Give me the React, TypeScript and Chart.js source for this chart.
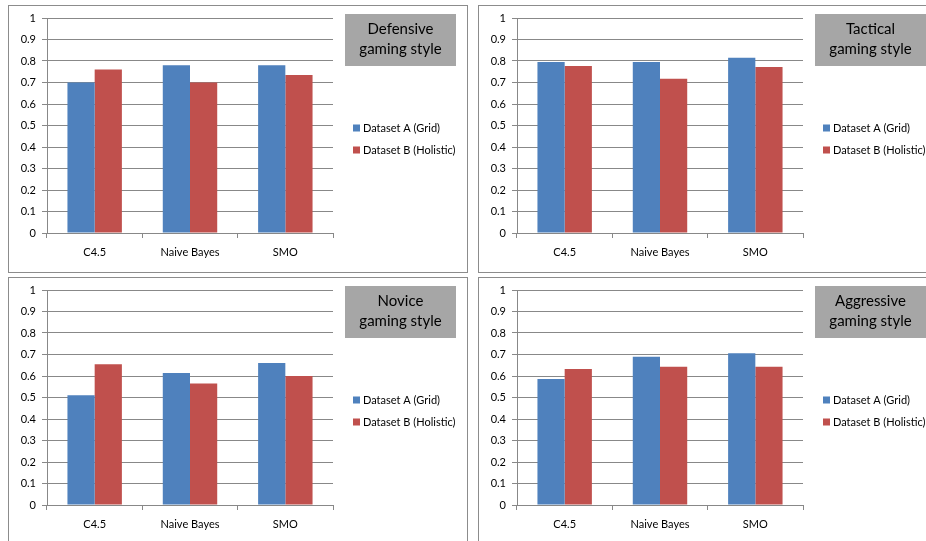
import React, { useEffect, useRef } from "react";
import { Chart, registerables } from "chart.js";

Chart.register(...registerables);

// ---- data ----
const categories = ["C4.5", "Naive Bayes", "SMO"];
const seriesNames = ["Dataset A (Grid)", "Dataset B (Holistic)"];
const yTickLabels = ["0", "0.1", "0.2", "0.3", "0.4", "0.5", "0.6", "0.7", "0.8", "0.9", "1"];

const defensiveA = [0.7, 0.78, 0.78];
const defensiveB = [0.76, 0.7, 0.735];
const tacticalA = [0.795, 0.795, 0.815];
const tacticalB = [0.777, 0.718, 0.772];
const noviceA = [0.51, 0.614, 0.66];
const noviceB = [0.655, 0.565, 0.6];
const aggressiveA = [0.586, 0.69, 0.706];
const aggressiveB = [0.632, 0.643, 0.643];

const defensiveTitle = ["Defensive", "gaming style"];
const tacticalTitle = ["Tactical", "gaming style"];
const noviceTitle = ["Novice", "gaming style"];
const aggressiveTitle = ["Aggressive", "gaming style"];

// ---- style ----
const FONT = "Lato, 'Open Sans', sans-serif";
const BLUE = "#4F81BD";
const RED = "#C0504D";
const GRID = "#888888";
const PANEL_W = 460;
const PANEL_H = 268;

const decorPlugin = {
  id: "decor",
  afterDraw(chart: any, _args: any, opts: any) {
    const { ctx, chartArea } = chart;
    ctx.save();
    // title box
    const bx = chartArea.right + 12;
    const by = chartArea.top - 4;
    const bw = 111;
    const bh = 52;
    ctx.fillStyle = "#a6a6a6";
    ctx.fillRect(bx, by, bw, bh);
    ctx.fillStyle = "#000";
    ctx.font = `15px ${FONT}`;
    ctx.textAlign = "center";
    ctx.textBaseline = "middle";
    (opts.lines || []).forEach((l: string, i: number) => {
      ctx.fillText(l, bx + bw / 2, by + 15 + i * 20);
    });
    // legend
    const lx = chartArea.right + 20;
    chart.data.datasets.forEach((ds: any, i: number) => {
      const cy = chart.height / 2 - 11 + i * 22;
      ctx.fillStyle = ds.backgroundColor;
      ctx.fillRect(lx, cy - 3.5, 7, 7);
      ctx.fillStyle = "#000";
      ctx.font = `11px ${FONT}`;
      ctx.textAlign = "left";
      ctx.textBaseline = "middle";
      ctx.fillText(ds.label, lx + 10, cy);
    });
    ctx.restore();
  },
};

function Panel(props: { left: number; top: number; title: string[]; a: number[]; b: number[] }) {
  const ref = useRef<HTMLCanvasElement>(null);
  useEffect(() => {
    if (!ref.current) return;
    const chart = new Chart(ref.current, {
      type: "bar",
      data: {
        labels: categories,
        datasets: [
          { label: seriesNames[0], data: props.a, backgroundColor: BLUE, borderWidth: 0 },
          { label: seriesNames[1], data: props.b, backgroundColor: RED, borderWidth: 0 },
        ],
      },
      options: {
        responsive: false,
        animation: false,
        devicePixelRatio: 1,
        layout: { padding: { left: 0, top: 13, right: 135, bottom: 0 } },
        datasets: { bar: { categoryPercentage: 0.571, barPercentage: 1 } },
        plugins: {
          legend: { display: false },
          tooltip: { enabled: false },
          decor: { lines: props.title },
        } as any,
        scales: {
          x: {
            grid: { drawOnChartArea: false, drawTicks: true, tickLength: 5, color: GRID, offset: true },
            border: { color: GRID },
            ticks: { font: { family: FONT, size: 11 }, color: "#000", padding: 8, maxRotation: 0 },
            afterFit: (s: any) => {
              s.height = 40;
            },
          },
          y: {
            min: 0,
            max: 1,
            ticks: {
              stepSize: 0.1,
              font: { family: FONT, size: 11 },
              color: "#000",
              padding: 6,
              callback: (_v: any, i: number) => yTickLabels[i],
            },
            grid: { color: GRID, tickLength: 5 },
            border: { color: GRID },
            afterFit: (s: any) => {
              s.width = 39;
            },
          },
        },
      },
      plugins: [decorPlugin],
    });
    return () => chart.destroy();
  }, []);
  return (
    <div style={{ position: "absolute", left: props.left, top: props.top, width: PANEL_W, height: PANEL_H }}>
      <div
        style={{
          position: "absolute",
          left: 0,
          top: 0,
          width: PANEL_W,
          height: PANEL_H,
          boxSizing: "border-box",
          border: "1px solid #8c8c8c",
        }}
      />
      <canvas ref={ref} width={PANEL_W} height={PANEL_H} style={{ position: "absolute", left: 0, top: 0 }} />
    </div>
  );
}

export default function App() {
  return (
    <div
      style={{
        position: "fixed",
        left: 0,
        top: 0,
        width: 926,
        height: 541,
        overflow: "hidden",
        background: "#fff",
      }}
    >
      <Panel left={8} top={5} title={defensiveTitle} a={defensiveA} b={defensiveB} />
      <Panel left={478} top={5} title={tacticalTitle} a={tacticalA} b={tacticalB} />
      <Panel left={8} top={277} title={noviceTitle} a={noviceA} b={noviceB} />
      <Panel left={478} top={277} title={aggressiveTitle} a={aggressiveA} b={aggressiveB} />
    </div>
  );
}
